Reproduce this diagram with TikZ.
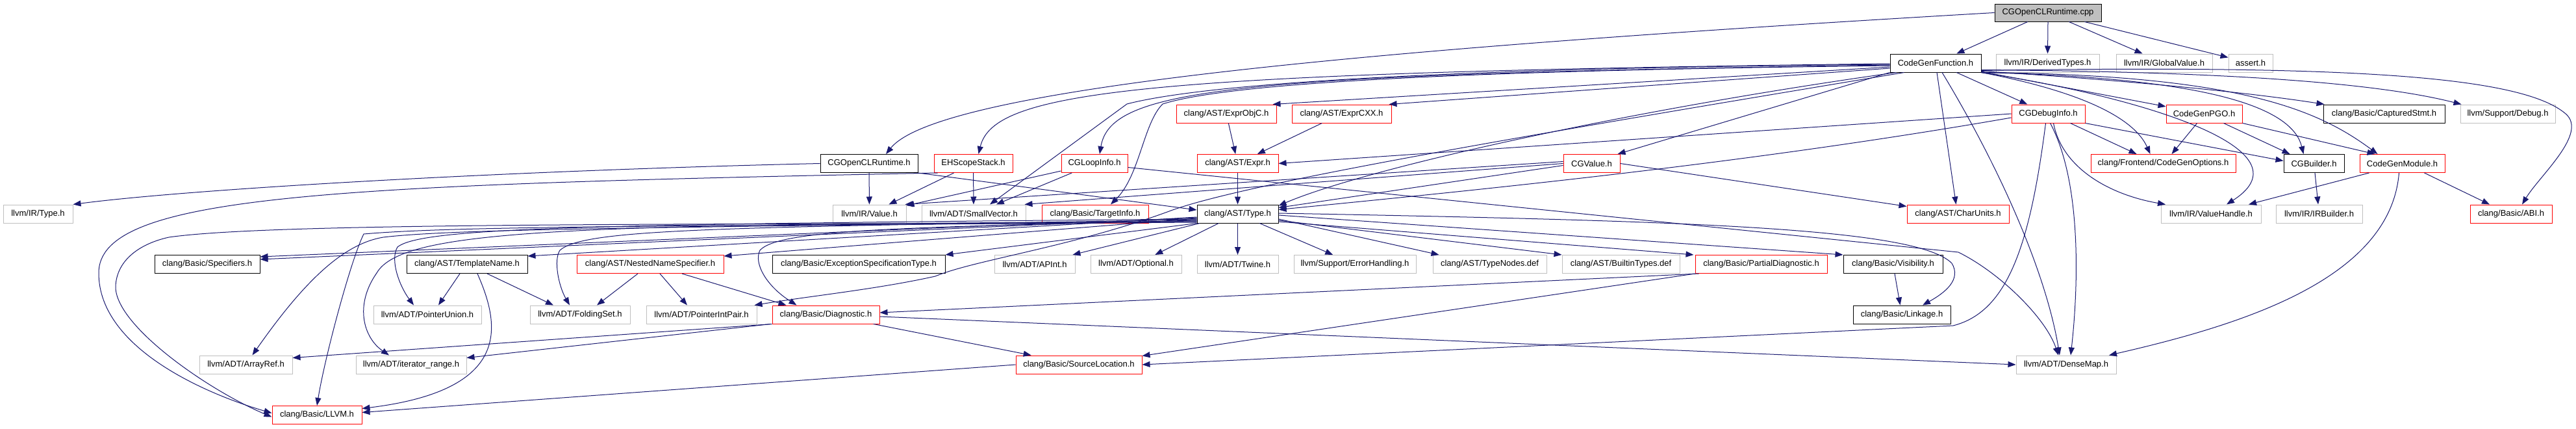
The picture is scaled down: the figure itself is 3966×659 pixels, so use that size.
\documentclass[tikz,border=0pt]{standalone}
\usepackage{fontspec}
\newfontfamily\lsans{Liberation Sans}
\usetikzlibrary{arrows.meta}
\definecolor{eblue}{HTML}{191970}
\definecolor{gbd}{HTML}{BFBFBF}
\definecolor{rbd}{HTML}{FF0000}
\definecolor{rootfill}{HTML}{BFBFBF}
\newcommand{\nd}[6]{\node[nbox,#5,minimum width={#3-#2}] (#1) at ({(#2+#3)/2},#4) {#6};}
\begin{document}
\begin{tikzpicture}[x=1pt,y=-1pt,
  nbox/.style={draw,rectangle,inner sep=0pt,minimum height=28pt,line width=1pt,fill=white,text=black,font=\lsans\fontsize{13}{15}\selectfont},
  nblack/.style={draw=black},
  nred/.style={draw=rbd},
  ngray/.style={draw=gbd},
  nroot/.style={draw=black,fill=rootfill,minimum height=27pt},
  edg/.style={draw=eblue,line width=1pt,-{Triangle[length=12pt,width=9pt]}}]
\fill[white] (0,0) rectangle (3966,659);
\useasboundingbox (0,0) rectangle (3966,659);
% nodes
\nd{cpp}{3071}{3235}{19.5}{nroot}{CGOpenCLRuntime.cpp}
\nd{cgf}{2910}{3050}{97}{nblack}{CodeGenFunction.h}
\nd{dty}{3073}{3232}{97}{ngray}{llvm/IR/DerivedTypes.h}
\nd{gv}{3258}{3406}{97}{ngray}{llvm/IR/GlobalValue.h}
\nd{ast}{3431}{3499}{97}{ngray}{assert.h}
\nd{eobjc}{1811}{1965}{175}{nred}{clang/AST/ExprObjC.h}
\nd{ecxx}{1989}{2142}{175}{nred}{clang/AST/ExprCXX.h}
\nd{dbg}{3097}{3210}{175}{nred}{CGDebugInfo.h}
\nd{pgo}{3335}{3452}{175}{nred}{CodeGenPGO.h}
\nd{cap}{3577}{3764}{175}{nblack}{clang/Basic/CapturedStmt.h}
\nd{sdbg}{3788}{3934}{175}{ngray}{llvm/Support/Debug.h}
\nd{oclh}{1263}{1413}{251.5}{nblack}{CGOpenCLRuntime.h}
\nd{eh}{1438}{1559}{251.5}{nred}{EHScopeStack.h}
\nd{loop}{1634}{1736}{251.5}{nred}{CGLoopInfo.h}
\nd{expr}{1843}{1968}{251.5}{nred}{clang/AST/Expr.h}
\nd{cgv}{2407}{2494}{251.5}{nred}{CGValue.h}
\nd{cgo}{3219}{3442}{251.5}{nred}{clang/Frontend/CodeGenOptions.h}
\nd{bld}{3516}{3609}{251.5}{nblack}{CGBuilder.h}
\nd{cgm}{3633}{3764}{251.5}{nred}{CodeGenModule.h}
\nd{irt}{5}{112}{329}{ngray}{llvm/IR/Type.h}
\nd{val}{1282}{1395}{329}{ngray}{llvm/IR/Value.h}
\nd{sv}{1419}{1579}{329}{ngray}{llvm/ADT/SmallVector.h}
\nd{ti}{1604}{1768}{329}{nred}{clang/Basic/TargetInfo.h}
\nd{type}{1843}{1968}{329}{nblack}{clang/AST/Type.h}
\nd{cu}{2936}{3093}{329}{nred}{clang/AST/CharUnits.h}
\nd{vh}{3327}{3481}{329}{ngray}{llvm/IR/ValueHandle.h}
\nd{irb}{3504}{3637}{329}{ngray}{llvm/IR/IRBuilder.h}
\nd{abi}{3803}{3929}{329}{nred}{clang/Basic/ABI.h}
\nd{spec}{238}{400}{406.5}{nblack}{clang/Basic/Specifiers.h}
\nd{tn}{626}{812}{406.5}{nblack}{clang/AST/TemplateName.h}
\nd{nns}{888}{1114}{406.5}{nred}{clang/AST/NestedNameSpecifier.h}
\nd{est}{1189}{1455}{406.5}{nblack}{clang/Basic/ExceptionSpecificationType.h}
\nd{apint}{1531}{1655}{406.5}{ngray}{llvm/ADT/APInt.h}
\nd{opt}{1679}{1819}{406.5}{ngray}{llvm/ADT/Optional.h}
\nd{tw}{1843}{1968}{406.5}{ngray}{llvm/ADT/Twine.h}
\nd{ehd}{1992}{2180}{406.5}{ngray}{llvm/Support/ErrorHandling.h}
\nd{tnd}{2206}{2381}{406.5}{ngray}{clang/AST/TypeNodes.def}
\nd{btd}{2405}{2586}{406.5}{ngray}{clang/AST/BuiltinTypes.def}
\nd{pd}{2610}{2813}{406.5}{nred}{clang/Basic/PartialDiagnostic.h}
\nd{vis}{2838}{2991}{406.5}{nblack}{clang/Basic/Visibility.h}
\nd{pu}{575}{741}{484}{ngray}{llvm/ADT/PointerUnion.h}
\nd{fs}{816}{970}{484}{ngray}{llvm/ADT/FoldingSet.h}
\nd{pip}{995}{1165}{484}{ngray}{llvm/ADT/PointerIntPair.h}
\nd{diag}{1189}{1354}{484}{nred}{clang/Basic/Diagnostic.h}
\nd{lnk}{2853}{3003}{484}{nblack}{clang/Basic/Linkage.h}
\nd{ar}{307}{450}{561}{ngray}{llvm/ADT/ArrayRef.h}
\nd{ir}{548}{718}{561}{ngray}{llvm/ADT/iterator\_range.h}
\nd{sl}{1564}{1758}{561}{nred}{clang/Basic/SourceLocation.h}
\nd{dm}{3104}{3258}{561}{ngray}{llvm/ADT/DenseMap.h}
\nd{llvmh}{419}{557}{638.5}{nred}{clang/Basic/LLVM.h}
% root
\draw[edg] (cpp) -- (cgf);
\draw[edg] (cpp.south) -- (dty.north);
\draw[edg] (cpp) -- (gv);
\draw[edg] (cpp) -- (ast);
\draw[edg] (cpp.west) .. controls (2200,70) and (1450,130) .. ([xshift=26pt]oclh.north);
% CodeGenFunction, left side
\draw[edg] ([yshift=-1pt]cgf.west) .. controls (1750,112) and (1530,140) .. ([xshift=8pt]eh.north);
\draw[edg] ([yshift=-2pt]cgf.west) .. controls (2200,105) and (1850,130) .. (1735,160) -- ([xshift=25pt]sv.north);
\draw[edg] ([yshift=-3pt]cgf.west) .. controls (1900,115) and (1710,135) .. ([xshift=8pt]loop.north);
\draw[edg] ([yshift=-4pt]cgf.west) .. controls (2300,108) and (1900,125) .. (1790,160) .. controls (1760,190) and (1755,270) .. ([xshift=24pt]ti.north);
\draw[edg] ([yshift=-6pt]cgf.west) -- ([xshift=-6pt]eobjc.north east);
\draw[edg] ([yshift=-8pt]cgf.west) -- ([xshift=-4pt]ecxx.north east);
\draw[edg] (cgf.south west) -- ([xshift=-4pt]cgv.north east);
\draw[edg] ([xshift=10pt]cgf.south west) .. controls (2500,170) and (2100,260) .. ([yshift=-2pt]type.north east);
\draw[edg] ([xshift=22pt]cgf.south west) .. controls (2400,200) and (1920,280) .. (1800,325) .. controls (1650,380) and (1500,400) .. (1440,425) .. controls (1350,445) and (1250,455) .. ([xshift=-4pt]pip.north east);
% CodeGenFunction, right side
\draw[edg] ([xshift=2pt]cgf.south) -- ([xshift=-3pt]cu.north);
\draw[edg] ([xshift=10pt]cgf.south) .. controls (3080,260) and (3150,420) .. ([xshift=-10pt]dm.north);
\draw[edg] (cgf) -- (dbg);
\draw[edg] (cgf) -- (pgo);
\draw[edg] ([yshift=2pt]cgf.south east) .. controls (3300,125) and (3480,145) .. ([xshift=2pt]cap.north west);
\draw[edg] ([yshift=4pt]cgf.south east) .. controls (3400,110) and (3650,125) .. ([xshift=2pt]sdbg.north west);
\draw[edg] (cgf.south east) .. controls (3200,140) and (3285,180) .. ([xshift=-20pt]cgo.north);
\draw[edg] (cgf.south east) .. controls (3420,120) and (3530,170) .. ([xshift=-16pt]bld.north);
\draw[edg] (cgf.south east) .. controls (3450,115) and (3570,170) .. ([xshift=-38pt]cgm.north);
\draw[edg] (cgf.south east) .. controls (3300,150) and (3560,230) .. ([xshift=24pt]vh.north);
\draw[edg] ([yshift=3pt]cgf.south east) .. controls (3600,100) and (3880,115) .. (3950,175) .. controls (3985,205) and (3910,270) .. ([xshift=17pt]abi.north);
% CGDebugInfo
\draw[edg] (dbg.west) -- (expr.east);
\draw[edg] ([yshift=-6pt]dbg.west) .. controls (2700,250) and (2300,290) .. ([yshift=-8pt]type.north east);
\draw[edg] ([xshift=34pt]dbg.south) -- ([xshift=-41pt]cgo.north);
\draw[edg] (dbg.south east) -- ([yshift=4pt]bld.west);
\draw[edg] ([xshift=8pt]dbg.south) .. controls (3175,260) and (3250,300) .. ([xshift=-70pt]vh.north);
\draw[edg] ([xshift=3pt]dbg.south) .. controls (3205,280) and (3200,440) .. ([xshift=7pt]dm.north);
\draw[edg] ([xshift=-4pt]dbg.south) .. controls (3125,380) and (3090,480) .. (3007,501) -- (sl.east);
% CodeGenPGO, CodeGenModule, CGBuilder
\draw[edg] ([xshift=-11pt]pgo.south) -- ([xshift=13pt]cgo.north);
\draw[edg] ([xshift=30pt]pgo.south) -- ([xshift=-37pt]bld.north);
\draw[edg] (pgo.south east) -- ([xshift=-42pt]cgm.north);
\draw[edg] ([xshift=-51pt]cgm.south) -- ([xshift=58pt]vh.north);
\draw[edg] ([xshift=34pt]cgm.south) -- ([xshift=-33pt]abi.north);
\draw[edg] ([xshift=-5pt]cgm.south) .. controls (3680,430) and (3450,500) .. ([xshift=66pt]dm.north);
\draw[edg] (bld) -- (irb);
% CGOpenCLRuntime.h
\draw[edg] (oclh.west) .. controls (800,262) and (300,290) .. (irt.north east);
\draw[edg] (oclh) -- (val);
\draw[edg] (oclh.south east) -- ([yshift=6pt]type.west);
% EHScopeStack
\draw[edg] (eh) -- (val);
\draw[edg] (eh) -- (sv);
\draw[edg] ([xshift=6pt]eh.south west) .. controls (500,285) and (152,300) .. (152,420) .. controls (152,540) and (330,610) .. ([yshift=3pt]llvmh.west);
% CGLoopInfo
\draw[edg] (loop) -- (val);
\draw[edg] (loop) -- (sv);
\draw[edg] ([yshift=-6pt]loop.east) -- (3015,388) .. controls (3080,420) and (3150,490) .. ([xshift=-12pt]dm.north);
% CGValue
\draw[edg] ([yshift=3pt]cgv.west) -- ([xshift=-2pt]val.north east);
\draw[edg] (cgv.west) -- ([xshift=-2pt]sv.north east);
\draw[edg] ([yshift=-3pt]cgv.west) -- ([yshift=-5pt]type.north east);
\draw[edg] (cgv.east) -- ([yshift=-3pt]cu.north west);
% Expr
\draw[edg] (eobjc) -- (expr);
\draw[edg] (ecxx) -- (expr);
\draw[edg] (expr) -- (type);
% TargetInfo
\draw[edg] ([xshift=8pt]ti.south west) -- ([yshift=-3pt]spec.north east);
\draw[edg] (ti.south west) .. controls (900,345) and (400,345) .. (260,365) .. controls (215,375) and (180,400) .. (178,440) .. controls (176,500) and (320,600) .. ([yshift=-3pt]llvmh.west);
% clang/AST/Type.h
\draw[edg] (type) -- (tw);
\draw[edg] (type) -- (opt);
\draw[edg] (type) -- (apint);
\draw[edg] (type) -- (ehd);
\draw[edg] ([yshift=-8pt]type.east) -- ([xshift=10pt]tnd.north west);
\draw[edg] ([yshift=-10pt]type.east) -- (btd.north west);
\draw[edg] ([yshift=-12pt]type.east) -- ([xshift=-2pt]pd.north west);
\draw[edg] ([yshift=-2pt]type.east) -- (vis.north west);
\draw[edg] ([yshift=1pt]type.east) .. controls (2600,340) and (2950,350) .. (3005,405) .. controls (3020,430) and (2995,450) .. ([xshift=32pt]lnk.north);
\draw[edg] (type.south west) -- (est.north east);
\draw[edg] ([yshift=-6pt]type.west) -- ([yshift=-7pt]spec.north east);
\draw[edg] ([yshift=-5pt]type.west) -- ([yshift=-2pt]tn.north east);
\draw[edg] ([yshift=-7pt]type.west) -- ([yshift=-2pt]nns.north east);
\draw[edg] ([yshift=-8pt]type.west) .. controls (900,345) and (650,350) .. (612,380) .. controls (600,400) and (615,440) .. ([xshift=-21pt]pu.north);
\draw[edg] ([yshift=-9pt]type.west) .. controls (1100,350) and (900,352) .. (862,385) .. controls (852,400) and (860,440) .. ([xshift=-16pt]fs.north);
\draw[edg] ([yshift=-10pt]type.west) .. controls (1400,350) and (1200,352) .. (1170,385) .. controls (1160,405) and (1180,440) .. ([xshift=-45pt]diag.north);
\draw[edg] ([yshift=-11pt]type.west) .. controls (1000,350) and (700,352) .. (590,365) .. controls (530,375) and (470,430) .. ([xshift=10pt]ar.north);
\draw[edg] ([yshift=-12pt]type.west) .. controls (900,345) and (620,350) .. (580,420) .. controls (545,470) and (560,520) .. ([xshift=-34pt]ir.north);
\draw[edg] ([yshift=-13pt]type.west) .. controls (1000,348) and (700,348) .. (560,360) .. controls (540,400) and (500,550) .. (llvmh.north);
% TemplateName
\draw[edg] ([xshift=-11pt]tn.south) -- ([xshift=17pt]pu.north);
\draw[edg] ([xshift=31pt]tn.south) -- ([xshift=-41pt]fs.north);
\draw[edg] ([xshift=16pt]tn.south) .. controls (770,500) and (790,600) .. ([yshift=10pt]llvmh.east);
% NestedNameSpecifier
\draw[edg] ([xshift=-19pt]nns.south) -- ([xshift=26pt]fs.north);
\draw[edg] ([xshift=15pt]nns.south) -- ([xshift=-22pt]pip.north);
\draw[edg] ([xshift=49pt]nns.south) -- ([xshift=-61pt]diag.north);
% Diagnostic
\draw[edg] (diag.south west) -- ([yshift=-4pt]ar.north east);
\draw[edg] ([xshift=-2pt]diag.south west) -- ([yshift=-4pt]ir.north east);
\draw[edg] (diag) -- (sl);
\draw[edg] ([yshift=-3pt]diag.east) -- (dm.west);
% PartialDiagnostic
\draw[edg] ([xshift=6pt]pd.south west) -- ([yshift=3pt]diag.east);
\draw[edg] (pd.south west) -- ([yshift=-1pt]sl.north east);
% SourceLocation, Visibility
\draw[edg] (sl.west) -- ([yshift=4pt]llvmh.east);
\draw[edg] (vis) -- (lnk);
\end{tikzpicture}
\end{document}
